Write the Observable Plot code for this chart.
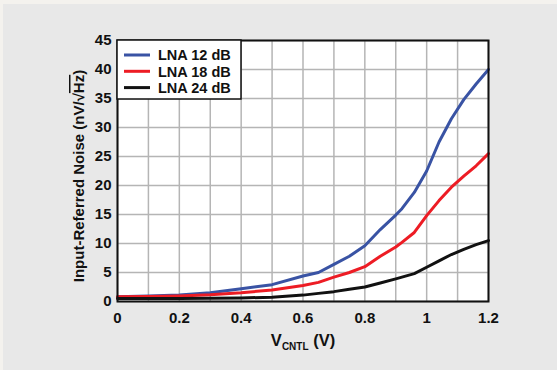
<!DOCTYPE html>
<html>
<head>
<meta charset="utf-8">
<script src="https://cdn.jsdelivr.net/npm/d3@7"></script>
<script src="https://cdn.jsdelivr.net/npm/@observablehq/plot@0.6"></script>
<style>
  html, body { margin: 0; padding: 0; width: 557px; height: 370px; overflow: hidden; }
  body { background: #e8e8e8; box-shadow: inset 3px 4px 0 #f4f2ee; font-family: "Liberation Sans", Arial, sans-serif; }
  #chart { position: absolute; left: 0; top: 0; }
</style>
</head>
<body>
<div id="chart"></div>
<script>
// ---- data ----
const seriesNames = ["LNA 12 dB", "LNA 18 dB", "LNA 24 dB"];
const vcntl   = [0, 0.1, 0.2, 0.3, 0.4, 0.5, 0.6, 0.65, 0.7, 0.75, 0.8, 0.85, 0.9, 0.92, 0.96, 1.0, 1.04, 1.08, 1.12, 1.16, 1.2];
const noise12 = [0.8, 0.95, 1.1, 1.5, 2.2, 2.9, 4.4, 5.0, 6.4, 7.8, 9.6, 12.4, 14.9, 16.0, 18.8, 22.5, 27.5, 31.5, 34.8, 37.5, 40.0];
const noise18 = [0.8, 0.85, 0.95, 1.15, 1.5, 2.0, 2.75, 3.3, 4.2, 5.0, 6.0, 7.8, 9.4, 10.2, 11.9, 14.8, 17.4, 19.7, 21.6, 23.4, 25.5];
const noise24 = [0.5, 0.5, 0.5, 0.55, 0.6, 0.75, 1.1, 1.4, 1.7, 2.1, 2.5, 3.2, 3.9, 4.2, 4.8, 5.9, 7.0, 8.1, 9.0, 9.8, 10.5];
const xGridTicks  = [0, 0.1, 0.2, 0.3, 0.4, 0.5, 0.6, 0.7, 0.8, 0.9, 1.0, 1.1, 1.2];
const xTickLabels = [0, 0.2, 0.4, 0.6, 0.8, 1.0, 1.2];
const yTicks      = [0, 5, 10, 15, 20, 25, 30, 35, 40, 45];
const yLabel = "Input-Referred Noise (nV/";
const yLabelRoot = "√";
const yLabelUnit = "Hz";
const xLabelMain = "V";
const xLabelSub = "CNTL";
const xLabelUnit = " (V)";

const seriesValues = [noise12, noise18, noise24];
const rows = seriesNames.flatMap((s, i) => vcntl.map((v, j) => ({series: s, v, noise: seriesValues[i][j]})));

const FONT = '"Liberation Sans", Arial, sans-serif';

const chart = Plot.plot({
  width: 557,
  height: 370,
  marginLeft: 117,
  marginRight: 69,
  marginTop: 40,
  marginBottom: 69,
  style: {background: "transparent", color: "#111", fontFamily: FONT, fontWeight: "bold", overflow: "visible"},
  x: {domain: [0, 1.2]},
  y: {domain: [0, 45]},
  color: {domain: seriesNames, range: ["#3953a4", "#ed1c24", "#111111"]},
  marks: [
    Plot.frame({fill: "white"}),
    Plot.gridX(xGridTicks, {stroke: "#b5b5b5", strokeOpacity: 1, strokeWidth: 1.5}),
    Plot.gridY(yTicks, {stroke: "#b5b5b5", strokeOpacity: 1, strokeWidth: 1.5}),
    Plot.line(rows, {x: "v", y: "noise", z: "series", stroke: "series", strokeWidth: 3}),
    Plot.frame({stroke: "#111", strokeWidth: 2}),
    Plot.axisX(xTickLabels, {tickSize: 0, tickPadding: 11, tickFormat: d => String(d), fontSize: 15, fontWeight: "bold", label: null}),
    Plot.axisY(yTicks, {tickSize: 0, tickPadding: 6, tickFormat: d => String(d), fontSize: 15, fontWeight: "bold", label: null})
  ]
});
document.getElementById("chart").appendChild(chart);

const svg = d3.select(chart);
const color = chart.scale("color");

// y-axis title
const yt = svg.append("text")
  .attr("transform", "translate(84,176) rotate(-90)")
  .attr("text-anchor", "middle")
  .attr("font-family", FONT).attr("font-weight", "bold").attr("font-size", 15).attr("fill", "#111");
yt.append("tspan").text(yLabel);
yt.append("tspan").text(yLabelRoot);
yt.append("tspan").attr("text-decoration", "overline").text(yLabelUnit);
yt.append("tspan").text(")");

// x-axis title
const xt = svg.append("text")
  .attr("x", 303).attr("y", 346)
  .attr("text-anchor", "middle")
  .attr("font-family", FONT).attr("font-weight", "bold").attr("font-size", 16.5).attr("fill", "#111");
xt.append("tspan").text(xLabelMain);
xt.append("tspan").attr("font-size", 10).attr("dy", 4).text(xLabelSub);
xt.append("tspan").attr("dy", -4).text(xLabelUnit);

// legend
const lg = svg.append("g");
lg.append("rect").attr("x", 117).attr("y", 40).attr("width", 124).attr("height", 59)
  .attr("fill", "white").attr("stroke", "#111").attr("stroke-width", 1.5);
seriesNames.forEach((name, i) => {
  const cy = 55 + i * 16.3;
  lg.append("line").attr("x1", 124).attr("x2", 150).attr("y1", cy).attr("y2", cy)
    .attr("stroke", color.apply(name)).attr("stroke-width", 3);
  lg.append("text").attr("x", 158).attr("y", cy + 5.2)
    .attr("text-anchor", "start")
    .attr("font-family", FONT).attr("font-weight", "bold").attr("font-size", 14.5).attr("fill", "#111")
    .text(name);
});
</script>
</body>
</html>
